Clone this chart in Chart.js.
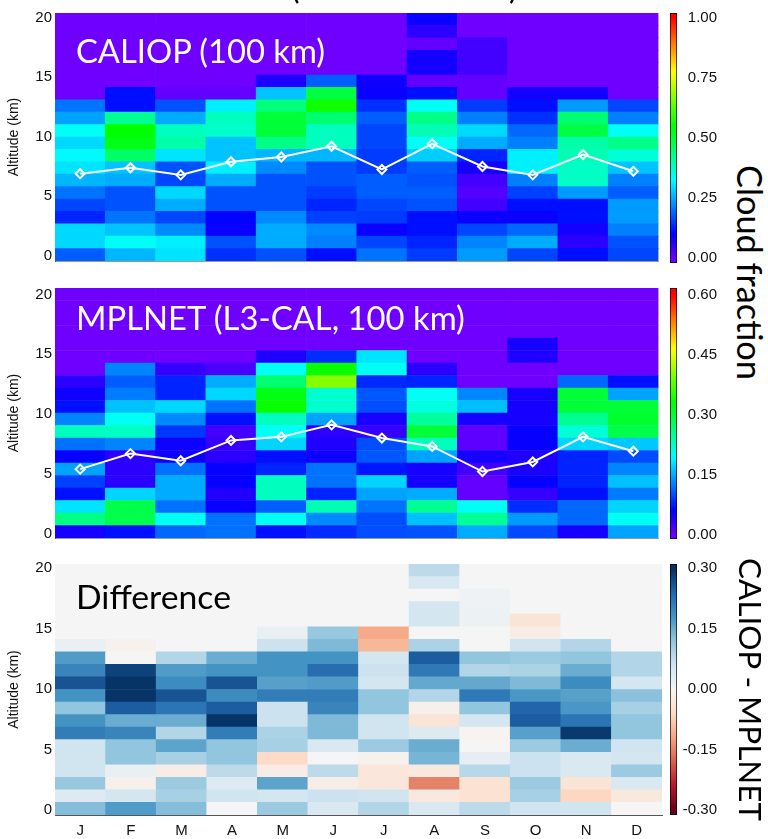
<!DOCTYPE html>
<html><head><meta charset="utf-8">
<script src="https://cdn.jsdelivr.net/npm/chart.js@4.4.1/dist/chart.umd.min.js"></script>
<style>
html,body{margin:0;padding:0;background:#fff;}
#wrap{position:relative;width:768px;height:839px;overflow:hidden;background:#fff;}
canvas{position:absolute;}
.lbl{position:absolute;white-space:nowrap;line-height:normal;font-family:Lato,'Open Sans',sans-serif;margin:0;padding:0;}
.rot{position:absolute;white-space:nowrap;line-height:normal;font-family:Lato,'Open Sans',sans-serif;transform-origin:0 0;transform:rotate(90deg);color:#000;}
</style></head>
<body><div id="wrap">
<canvas id="h1" width="665" height="273" style="left:0;top:0"></canvas>
<canvas id="h2" width="665" height="275" style="left:0;top:275px"></canvas>
<canvas id="h3" width="665" height="289" style="left:0;top:550px"></canvas>
<canvas id="b1" width="57" height="276" style="left:660px;top:0"></canvas>
<canvas id="b2" width="57" height="277" style="left:660px;top:275px"></canvas>
<canvas id="b3" width="57" height="277" style="left:660px;top:551px"></canvas>
<div class="lbl" id="tL">(</div>
<div class="lbl" id="tR">)</div>
<div class="lbl" id="p1" style="color:#fff">CALIOP (100 km)</div>
<div class="lbl" id="p2" style="color:#fff">MPLNET (L3-CAL, 100 km)</div>
<div class="lbl" id="p3" style="color:#000">Difference</div>
<div class="rot" id="r1">Cloud fraction</div>
<div class="rot" id="r2">CALIOP - MPLNET</div>
</div>
<script>
// ---------------- DATA ----------------
const months = ['J','F','M','A','M','J','J','A','S','O','N','D'];
const altitudeBins = [0,1,2,3,4,5,6,7,8,9,10,11,12,13,14,15,16,17,18,19]; // 20 bins, bottom -> top
const binHeight = 1;
const altitudeTicks = [0,5,10,15,20];

// Cloud fraction per month (bottom bin -> top bin)
const caliop = [
  [0.18,0.29,0.29,0.13,0.16, 0.20,0.26,0.30,0.32,0.29, 0.33,0.24,0.20,0,0, 0,0,0,0,0],
  [0.26,0.33,0.27,0.20,0.17, 0.17,0.25,0.27,0.46,0.53, 0.55,0.42,0.11,0.11,0, 0,0,0,0,0],
  [0.30,0.31,0.22,0.16,0.25, 0.29,0.16,0.17,0.30,0.40, 0.38,0.25,0.17,0.01,0, 0,0,0,0,0],
  [0.14,0.17,0.09,0.10,0.17, 0.17,0.25,0.31,0.27,0.27, 0.37,0.38,0.31,0.01,0, 0,0,0,0,0],
  [0.17,0.25,0.25,0.22,0.17, 0.17,0.17,0.22,0.26,0.43, 0.50,0.50,0.44,0.27,0.07, 0,0,0,0,0],
  [0.11,0.21,0.22,0.155,0.13, 0.15,0.17,0.17,0.26,0.38, 0.38,0.45,0.56,0.49,0.18, 0,0,0,0,0],
  [0.20,0.16,0.09,0.15,0.16, 0.18,0.18,0.15,0.15,0.16, 0.16,0.18,0.14,0.09,0.085, 0,0,0,0,0],
  [0.15,0.13,0.11,0.11,0.17, 0.18,0.17,0.18,0.28,0.33, 0.39,0.43,0.33,0.11,0.01, 0.08,0.08,0.01,0.06,0.09],
  [0.235,0.215,0.16,0.09,0.04, 0.025,0.04,0.08,0.13,0.25, 0.29,0.21,0.15,0.01,0.01, 0.04,0.04,0.04,0,0],
  [0.16,0.25,0.19,0.09,0.11, 0.155,0.21,0.31,0.31,0.21, 0.19,0.14,0.11,0.08,0, 0,0,0,0,0],
  [0.11,0.06,0.08,0.11,0.11, 0.235,0.375,0.375,0.39,0.40, 0.49,0.45,0.235,0.08,0, 0,0,0,0,0],
  [0.16,0.17,0.21,0.235,0.235, 0.18,0.21,0.27,0.36,0.43, 0.33,0.21,0.16,0,0, 0,0,0,0,0]
];
const mplnet = [
  [0.047,0.26,0.18,0.067,0.093, 0.145,0.056,0.119,0.228,0.129, 0.067,0.051,0.036,0,0, 0,0,0,0,0],
  [0.067,0.29,0.29,0.171,0.036, 0.036,0.036,0.129,0.225,0.2, 0.161,0.125,0.108,0.129,0, 0,0,0,0,0],
  [0.114,0.2,0.119,0.15,0.15, 0.119,0.051,0.051,0.088,0.132, 0.174,0.077,0.077,0.03,0, 0,0,0,0,0],
  [0.119,0.119,0.056,0.042,0.056, 0.056,0.036,0.03,0.024,0.067, 0.119,0.174,0.15,0.02,0, 0,0,0,0,0],
  [0.067,0.2,0.108,0.228,0.228, 0.077,0.067,0.171,0.2,0.228, 0.333,0.32,0.27,0.2,0.042, 0,0,0,0,0],
  [0.082,0.132,0.235,0.077,0.119, 0.119,0.051,0.042,0.036,0.145, 0.22,0.22,0.4,0.333,0.082, 0,0,0,0,0],
  [0.1,0.1,0.12,0.145,0.171, 0.07,0.105,0.1,0.03,0.045, 0.1,0.105,0.08,0.2,0.18, 0,0,0,0,0],
  [0.102,0.161,0.252,0.15,0.047, 0.047,0.145,0.228,0.3,0.246, 0.21,0.2,0.077,0.036,0, 0,0,0,0,0],
  [0.15,0.25,0.2,0.006,0.006, 0.024,0.047,0.009,0.009,0.047, 0.16,0.13,0,0,0, 0,0,0,0,0],
  [0.098,0.141,0.082,0.03,0.056, 0.045,0.042,0.056,0.056,0.047, 0.047,0.047,0,0,0.042, 0.047,0,0,0,0],
  [0.047,0.114,0.114,0.067,0.077, 0.077,0.077,0.171,0.216,0.252, 0.3,0.3,0.114,0,0, 0,0,0,0,0],
  [0.145,0.2,0.171,0.124,0.161, 0.129,0.098,0.165,0.29,0.306, 0.3,0.145,0.067,0,0, 0,0,0,0,0]
];
const difference = [
  [0.13,0.04,0.115,0.06,0.06, 0.06,0.21,0.18,0.12,0.18, 0.26,0.2,0.17,0.02,0, 0,0,0,0,0],
  [0.17,0.055,-0.015,0.02,0.12, 0.12,0.2,0.15,0.25,0.295, 0.295,0.28,0,-0.01,0, 0,0,0,0,0],
  [0.13,0.1,0.11,-0.02,0.1, 0.16,0.09,0.15,0.22,0.26, 0.19,0.17,0.09,0,0, 0,0,0,0,0],
  [0,0.06,0.04,0.08,0.12, 0.12,0.21,0.295,0.25,0.19, 0.26,0.18,0.15,0,0, 0,0,0,0,0],
  [0.11,0.055,0.16,-0.02,-0.06, 0.1,0.095,0.065,0.065,0.21, 0.165,0.18,0.18,0.065,0.02, 0,0,0,0,0],
  [0.045,0.065,-0.02,0.08,0, 0.045,0.135,0.135,0.2,0.21, 0.17,0.23,0.18,0.135,0.115, 0,0,0,0,0],
  [0.09,0.06,-0.035,-0.035,-0.01, 0.11,0.06,0.06,0.12,0.12, 0.055,0.065,0.055,-0.1,-0.115, 0,0,0,0,0],
  [0.045,-0.03,-0.15,-0.03,0.14, 0.15,0.04,-0.04,-0.015,0.09, 0.155,0.215,0.25,0.095,0, 0.055,0.055,0,0.05,0.08],
  [0.08,-0.045,-0.045,0.085,0.025, 0,-0.005,0.055,0.12,0.215, 0.155,0.09,0.12,0,0, 0.015,0.015,0.01,0,0],
  [0.06,0.1,0.11,0.065,0.065, 0.11,0.165,0.25,0.24,0.175, 0.135,0.095,0.11,0.06,-0.02, -0.04,0,0,0,0],
  [0.06,-0.065,-0.04,0.045,0.045, 0.15,0.29,0.22,0.175,0.165, 0.19,0.15,0.12,0.09,0, 0,0,0,0,0],
  [0,-0.03,0.045,0.11,0.055, 0.06,0.12,0.12,0.1,0.125, 0.055,0.09,0.09,0,0, 0,0,0,0,0]
];
// white lines (km)
const caliopLine = [6.9, 7.4, 6.8, 7.9, 8.3, 9.2, 7.25, 9.4, 7.5, 6.8, 8.5, 7.1];
const mplnetLine = [5.4, 6.7, 6.1, 7.8, 8.1, 9.1, 8.0, 7.3, 5.2, 6.0, 8.1, 6.9];

const caliopTicks = [0, 0.25, 0.5, 0.75, 1.0];
const mplnetTicks = [0, 0.15, 0.30, 0.45, 0.60];
const diffTicks = [-0.30, -0.15, 0, 0.15, 0.30];

// ---------------- COLORMAPS ----------------
function hsvColor(h){
  const x = 1 - Math.abs((h/60)%2 - 1);
  let r,g,b;
  if(h<60){r=1;g=x;b=0}else if(h<120){r=x;g=1;b=0}else if(h<180){r=0;g=1;b=x}
  else if(h<240){r=0;g=x;b=1}else{r=x;g=0;b=1}
  return `rgb(${Math.round(r*255)},${Math.round(g*255)},${Math.round(b*255)})`;
}
function rainbow(vmax){ return v => { const f = Math.max(0, Math.min(1, v/vmax)); return hsvColor(266*(1-f)); }; }
const RDBU = [[103,0,31],[178,24,43],[214,96,77],[244,165,130],[253,219,199],[245,245,245],[209,229,240],[146,197,222],[67,147,195],[33,102,172],[5,48,97]];
function rdbu(v){
  let t = (v + 0.3) / 0.6; t = Math.max(0, Math.min(1, t));
  const p = t*10, i = Math.min(9, Math.floor(p)), fr = p - i;
  const a = RDBU[i], b = RDBU[i+1];
  return `rgb(${Math.round(a[0]+(b[0]-a[0])*fr)},${Math.round(a[1]+(b[1]-a[1])*fr)},${Math.round(a[2]+(b[2]-a[2])*fr)})`;
}

Chart.defaults.font.family = "'Liberation Sans', Arial, sans-serif";
Chart.defaults.color = '#111';

// ---------------- HEATMAPS ----------------
function heatmap(id, values, cmap, line, kmMin, kmMax, pad, showX){
  const datasets = [];
  if (line) {
    datasets.push({
      type:'line', data: line, yAxisID:'yKm', order:0,
      borderColor:'#fff', borderWidth:2, pointStyle:'rectRot', pointRadius:4.5,
      pointBorderColor:'#fff', pointBorderWidth:2, pointBackgroundColor:'rgba(0,0,0,0)'
    });
  }
  altitudeBins.forEach((bin, r) => {
    datasets.push({
      type:'bar', data: months.map(() => binHeight), yAxisID:'y', stack:'s', order:1,
      backgroundColor: months.map((m, i) => cmap(values[i][r])),
      borderWidth:0, barPercentage:1, categoryPercentage:1
    });
  });
  return new Chart(document.getElementById(id), {
    data:{ labels: months, datasets },
    options:{
      responsive:false, animation:false, devicePixelRatio:1,
      layout:{ padding: pad },
      plugins:{ legend:{display:false}, tooltip:{enabled:false} },
      scales:{
        x:{ stacked:true, grid:{display:false, drawTicks:false},
            border:{display:true, color: showX ? '#555' : '#999', width:1},
            ticks:{ display: showX, padding:7, font:{size:15}, color:'#111', autoSkip:false, maxRotation:0 },
            afterFit: s => { s.height = showX ? 24 : 0; } },
        y:{ stacked:true, display:false, min:0, max:altitudeBins.length*binHeight },
        yKm:{ position:'left', min:kmMin, max:kmMax,
            afterBuildTicks: s => { s.ticks = altitudeTicks.map(v => ({value:v})); },
            ticks:{ font:{size:15}, color:'#111', padding:3, callback: v => String(v) },
            grid:{ display:true, drawOnChartArea:false, drawTicks:false },
            border:{ display:true, color:'#555', width:1 },
            title:{ display:true, text:'Altitude (km)', font:{size:14}, color:'#111', padding:{top:6, bottom:0} },
            afterFit: s => { s.width = 55; } }
      }
    }
  });
}

heatmap('h1', caliop, rainbow(1.0), caliopLine, -0.42, 20.37, {top:13, bottom:10, left:0, right:3}, false);
heatmap('h2', mplnet, rainbow(0.6), mplnetLine, -0.36, 20.55, {top:13, bottom:11, left:0, right:3}, false);
heatmap('h3', difference, rdbu, null, -0.41, 20.36, {top:14, bottom:0, left:0, right:3}, true);

// ---------------- COLORBARS ----------------
function colorbar(id, vmin, vmax, ticks, cmap, pad){
  const step = ticks[1] - ticks[0];
  const allTicks = [];
  ticks.forEach((v, i) => { allTicks.push({value:v, major:true}); if (i < ticks.length-1) allTicks.push({value:v + step/2, major:false}); });
  new Chart(document.getElementById(id), {
    type:'bar',
    data:{ labels:['cb'], datasets:[{
      data:[[vmin, vmax]],
      backgroundColor: ctx => {
        const a = ctx.chart.chartArea; if (!a) return 'rgba(0,0,0,0)';
        const g = ctx.chart.ctx.createLinearGradient(0, a.bottom, 0, a.top);
        for (let i = 0; i <= 60; i++) { const v = vmin + (vmax - vmin) * i / 60; g.addColorStop(i/60, cmap(v)); }
        return g;
      },
      borderColor:'#000', borderWidth:1, borderSkipped:false, barPercentage:1, categoryPercentage:1
    }]},
    options:{
      responsive:false, animation:false, devicePixelRatio:1,
      layout:{ padding: pad },
      plugins:{ legend:{display:false}, tooltip:{enabled:false} },
      scales:{
        x:{ display:false },
        y:{ position:'right', min:vmin, max:vmax,
            afterBuildTicks: s => { s.ticks = allTicks.map(t => ({value:t.value, major:t.major})); },
            ticks:{ font:{size:15}, color:'#111', crossAlign:'far',
                    callback: (v, i) => allTicks[i].major ? v.toFixed(2) : '' },
            grid:{ display:true, drawOnChartArea:false, drawTicks:true, tickLength:-3, color:'#333', lineWidth:1 },
            border:{ display:false },
            afterFit: s => { s.width = 40; } }
      }
    }
  });
}
colorbar('b1', -0.021, 1.0185, caliopTicks, rainbow(1.0), {top:13, bottom:13, left:10, right:0});
colorbar('b2', -0.0108, 0.6165, mplnetTicks, rainbow(0.6), {top:13, bottom:13, left:10, right:0});
colorbar('b3', -0.3123, 0.3108, diffTicks, rdbu, {top:13, bottom:13, left:10, right:0});

// ---------------- TEXT LABELS ----------------
const mctx = document.createElement('canvas').getContext('2d');
function metrics(text, size, fam){ mctx.font = `${size}px ${fam}`; return mctx.measureText(text); }
const FAM = "Lato";
function placeText(id, left, baseline, width, size){
  const el = document.getElementById(id);
  let fs = size;
  if (width) { const w = metrics(el.textContent, 100, FAM).width; fs = 100 * width / w; }
  const m = metrics(el.textContent, fs, FAM);
  el.style.fontSize = fs + 'px';
  el.style.left = left + 'px';
  el.style.top = (baseline - m.fontBoundingBoxAscent) + 'px';
}
function placeRot(id, baselineX, top, length){
  const el = document.getElementById(id);
  const w = metrics(el.textContent, 100, FAM).width; const fs = 100 * length / w;
  const m = metrics(el.textContent, fs, FAM);
  el.style.fontSize = fs + 'px';
  el.style.left = (baselineX + m.fontBoundingBoxAscent) + 'px';
  el.style.top = top + 'px';
}
placeText('tL', 291, -1, null, 32);
placeText('tR', 509, -1, null, 32);
placeText('p1', 76, 63, 250);
placeText('p2', 76, 330, 390);
placeText('p3', 76, 609, 155);
placeRot('r1', 737, 165, 215);
placeRot('r2', 739, 558, 264);
</script>
</body></html>
